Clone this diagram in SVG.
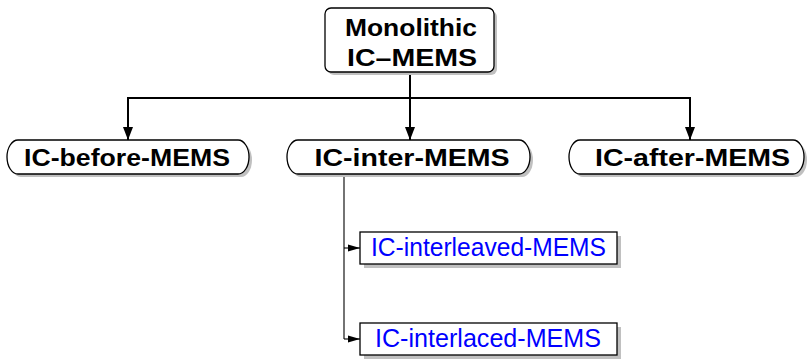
<svg xmlns="http://www.w3.org/2000/svg" width="808" height="361" viewBox="0 0 808 361">
<defs>
<style>
.b{fill:#fff;stroke:#000;stroke-width:1.3}
.s{fill:#c0c0c0}
.t{font-family:"Liberation Sans",Arial,sans-serif;font-weight:bold;font-size:24px;fill:#000;text-anchor:middle}
.u{font-family:"Liberation Sans",Arial,sans-serif;font-size:25px;fill:#0000ff;text-anchor:middle}
.c{fill:none;stroke:#000;stroke-width:2}
.c2{fill:none;stroke:#000;stroke-width:1.1}
</style>
<marker id="a" viewBox="0 0 13 10" refX="13" refY="5" markerWidth="13" markerHeight="10" markerUnits="userSpaceOnUse" orient="auto"><path d="M0,0 L13,5 L0,10 Z" fill="#000"/></marker>
<marker id="a2" viewBox="0 0 12 8" refX="12" refY="4" markerWidth="12" markerHeight="8" markerUnits="userSpaceOnUse" orient="auto"><path d="M0,0.5 L12,4 L0,7.5 Z" fill="#000"/></marker>
</defs>
<g id="connectors">
<path class="c" d="M410,72 V98 M127,98 H691"/>
<path class="c" d="M128,97 V140" marker-end="url(#a)"/>
<path class="c" d="M410,98 V140" marker-end="url(#a)"/>
<path class="c" d="M690,97 V140" marker-end="url(#a)"/>
<path class="c2" d="M344,174 V339"/>
<path class="c2" d="M344,248 H360" marker-end="url(#a2)"/>
<path class="c2" d="M344,339 H360" marker-end="url(#a2)"/>
</g>
<g id="n0">
<rect class="s" x="328" y="11" width="169" height="64" rx="6"/>
<rect class="b" x="325" y="8" width="169" height="64" rx="6"/>
<text class="t" x="411" y="36" textLength="132" lengthAdjust="spacingAndGlyphs">Monolithic</text>
<text class="t" x="412" y="66" textLength="130" lengthAdjust="spacingAndGlyphs">IC–MEMS</text>
</g>
<g id="n1">
<rect class="s" x="10" y="143" width="242" height="34" rx="11" ry="17"/>
<rect class="b" x="7" y="140" width="242" height="34" rx="11" ry="17"/>
<text class="t" x="127" y="166" textLength="206" lengthAdjust="spacingAndGlyphs">IC-before-MEMS</text>
</g>
<g id="n2">
<rect class="s" x="290" y="143" width="243" height="34" rx="11" ry="17"/>
<rect class="b" x="287" y="140" width="243" height="34" rx="11" ry="17"/>
<text class="t" x="412" y="166" textLength="195" lengthAdjust="spacingAndGlyphs">IC-inter-MEMS</text>
</g>
<g id="n3">
<rect class="s" x="572" y="143" width="235" height="34" rx="11" ry="17"/>
<rect class="b" x="569" y="140" width="235" height="34" rx="11" ry="17"/>
<text class="t" x="692.5" y="166" textLength="195" lengthAdjust="spacingAndGlyphs">IC-after-MEMS</text>
</g>
<g id="n4">
<rect class="s" x="364" y="236" width="257" height="32"/>
<rect class="b" x="360" y="232" width="257" height="32"/>
<text class="u" x="488.5" y="256" textLength="235" lengthAdjust="spacingAndGlyphs">IC-interleaved-MEMS</text>
</g>
<g id="n5">
<rect class="s" x="364" y="327" width="257" height="32"/>
<rect class="b" x="360" y="323" width="257" height="32"/>
<text class="u" x="488" y="347" textLength="226" lengthAdjust="spacingAndGlyphs">IC-interlaced-MEMS</text>
</g>
</svg>
